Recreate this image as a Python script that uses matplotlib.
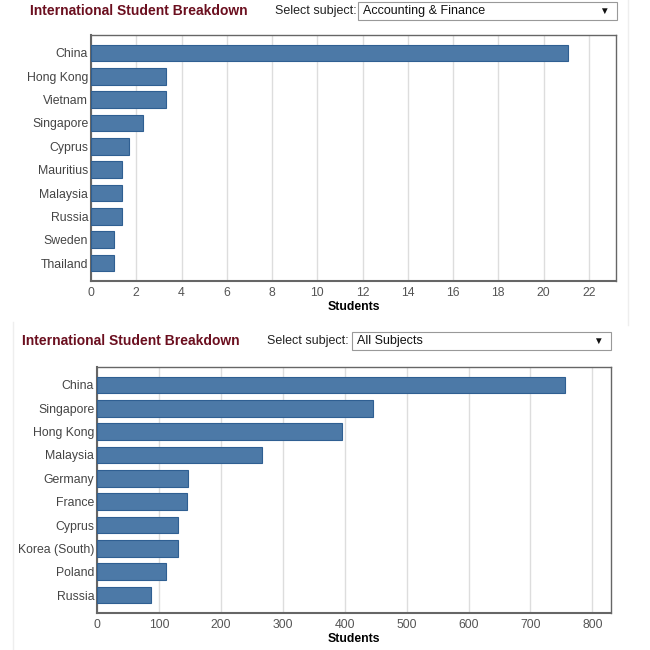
import matplotlib
matplotlib.use("Agg")
import matplotlib.pyplot as plt
from matplotlib.patches import Rectangle
from matplotlib.lines import Line2D

plt.rcParams['font.family'] = ['Liberation Sans', 'DejaVu Sans']

# ---------- data ----------
acc_countries = ['China', 'Hong Kong', 'Vietnam', 'Singapore', 'Cyprus',
                 'Mauritius', 'Malaysia', 'Russia', 'Sweden', 'Thailand']
acc_students = [21.1, 3.3, 3.3, 2.3, 1.7, 1.35, 1.35, 1.35, 1.0, 1.0]
acc_ticks = [0, 2, 4, 6, 8, 10, 12, 14, 16, 18, 20, 22]

all_countries = ['China', 'Singapore', 'Hong Kong', 'Malaysia', 'Germany',
                 'France', 'Cyprus', 'Korea (South)', 'Poland', 'Russia']
all_students = [756, 446, 396, 266, 147, 145, 131, 131, 111, 87]
all_ticks = [0, 100, 200, 300, 400, 500, 600, 700, 800]

title_text = 'International Student Breakdown'
select_text = 'Select subject:'
subjects = ['Accounting & Finance', 'All Subjects']

W = H = 650.0
bar_color = '#4c79a7'
edge_color = '#2f5f92'
title_color = '#6b0f1f'


def fx(px):
    return px / W


def fy(py):
    return 1 - py / H


def add_panel(fig, box, countries, values, ticks, xmax):
    # box = (left, top, right, bottom) in pixels
    l, t, r, b = box
    ax = fig.add_axes([fx(l), fy(b), fx(r) - fx(l), (b - t) / H])
    ypos = list(range(len(countries)))
    ax.barh(ypos, values, height=0.72, color=bar_color, edgecolor=edge_color,
            linewidth=0.8, zorder=3)
    ax.set_yticks(ypos)
    ax.set_yticklabels(countries, fontsize=8.8, color='#444444')
    ax.set_ylim(len(countries) - 1 + 0.77, -0.77)
    ax.set_xlim(0, xmax)
    ax.set_xticks(ticks)
    ax.set_xticklabels([str(v) for v in ticks], fontsize=8.8, color='#555555')
    ax.tick_params(axis='y', length=0, pad=2)
    ax.tick_params(axis='x', length=0, pad=4)
    ax.grid(axis='x', color='#dddddd', linewidth=1, zorder=0)
    for s in ax.spines.values():
        s.set_color('#666666')
        s.set_linewidth(1)
    ax.spines['left'].set_linewidth(1.5)
    ax.spines['bottom'].set_linewidth(1.5)
    ax.set_xlabel('Students', fontsize=8.8, fontweight='bold', labelpad=2)
    return ax


def add_header(fig, tx, ty, sx, box, subject):
    fig.text(fx(tx), fy(ty), title_text, fontsize=10, fontweight='bold',
             color=title_color, va='center', ha='left')
    fig.text(fx(sx), fy(ty), select_text, fontsize=9, color='#222222',
             va='center', ha='left')
    l, t, r, b = box
    fig.patches.append(Rectangle((fx(l), fy(b)), fx(r) - fx(l), (b - t) / H,
                                 transform=fig.transFigure, facecolor='white',
                                 edgecolor='#999999', linewidth=0.8))
    fig.text(fx(l + 5), fy((t + b) / 2), subject, fontsize=9, color='#111111',
             va='center', ha='left')
    fig.text(fx(r - 8), fy((t + b) / 2), '\u25bc', fontsize=7, color='#111111',
             va='center', ha='right')


fig = plt.figure(figsize=(6.5, 6.5), dpi=100)
fig.patch.set_facecolor('white')

# faint page borders
fig.lines.append(Line2D([fx(628), fx(628)], [fy(0), fy(325)],
                        transform=fig.transFigure, color='#eeeeee', linewidth=1))
fig.lines.append(Line2D([fx(13), fx(13)], [fy(322), fy(650)],
                        transform=fig.transFigure, color='#eeeeee', linewidth=1))

add_header(fig, 30, 11, 275, (358, 2, 617, 20), subjects[0])
add_panel(fig, (91, 35, 616, 281), acc_countries, acc_students, acc_ticks, 23.2)

add_header(fig, 22, 341, 267, (352, 332, 611, 350), subjects[1])
add_panel(fig, (97, 367, 611, 613), all_countries, all_students, all_ticks, 830)

fig.savefig('out.png', dpi=100)
